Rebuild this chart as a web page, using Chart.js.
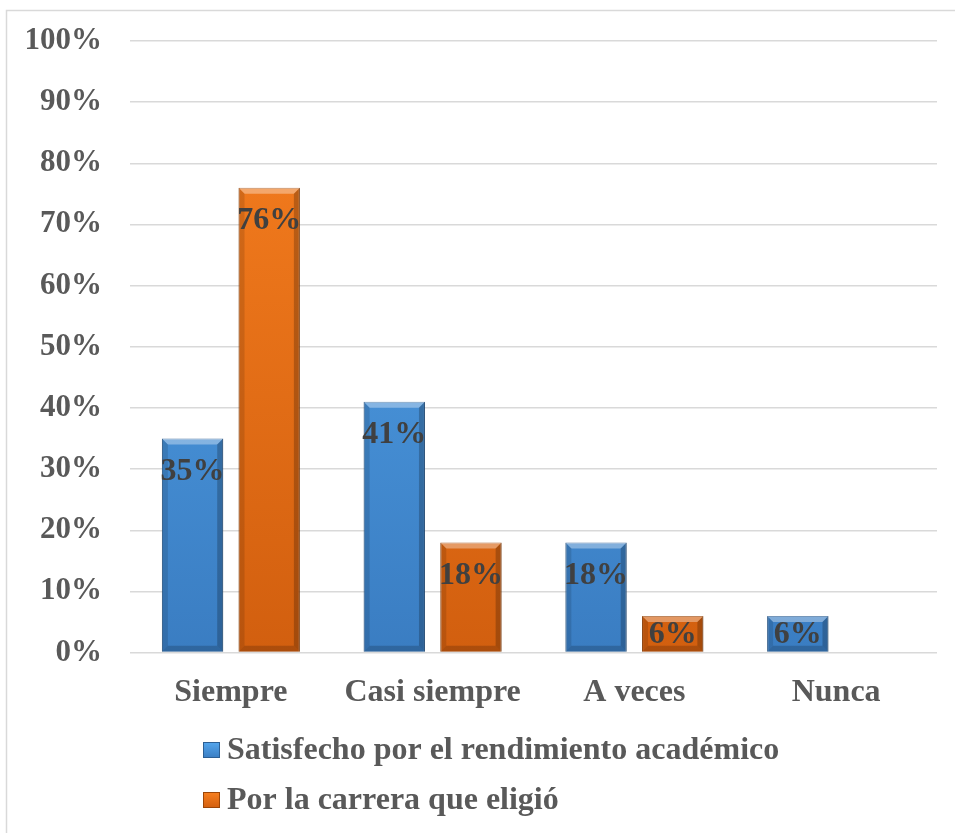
<!DOCTYPE html>
<html>
<head>
<meta charset="utf-8">
<script src="https://cdn.jsdelivr.net/npm/chart.js@4/dist/chart.umd.min.js"></script>
<style>
  html, body { margin: 0; padding: 0; background: #fff; }
  #wrap { width: 955px; height: 833px; }
</style>
</head>
<body>
<div id="wrap"><canvas id="encuesta" width="955" height="833"></canvas></div>
<script>
const categories = ['Siempre', 'Casi siempre', 'A veces', 'Nunca'];
const satisfecho = [35, 41, 18, 6];
const carrera = [76, 18, 6, 0];
const seriesNames = ['Satisfecho por el rendimiento académico', 'Por la carrera que eligió'];

const FONT = '"Liberation Serif", "Times New Roman", serif';
const blue = { top: '#55a7ee', bottom: '#3a7dc2', edge: '#2c5f94' };
const orange = { top: '#f88020', bottom: '#d25f0f', edge: '#9c4608' };

function barFill(c) {
	return function (context) {
		const area = context.chart.chartArea;
		if (!area) return c.top;
		const g = context.chart.ctx.createLinearGradient(0, area.top, 0, area.bottom);
		g.addColorStop(0, c.top);
		g.addColorStop(1, c.bottom);
		return g;
	};
}

// bevel look on each bar, using the bar elements the library laid out
const bevel = {
	id: 'bevel',
	afterDatasetsDraw(chart) {
		const ctx = chart.ctx;
		chart.data.datasets.forEach((ds, i) => {
			chart.getDatasetMeta(i).data.forEach((bar, j) => {
				if (!ds.data[j]) return;
				const l = bar.x - bar.width / 2, r = bar.x + bar.width / 2;
				const t = bar.y, b = bar.base;
				const e = Math.min(6, (b - t) / 3);
				ctx.save();
				ctx.fillStyle = 'rgba(255,255,255,0.35)';
				ctx.beginPath();
				ctx.moveTo(l, t); ctx.lineTo(r, t); ctx.lineTo(r - e, t + e); ctx.lineTo(l + e, t + e);
				ctx.fill();
				ctx.fillStyle = 'rgba(0,0,0,0.12)';
				ctx.beginPath();
				ctx.moveTo(l, t); ctx.lineTo(l + e, t + e); ctx.lineTo(l + e, b - e); ctx.lineTo(l, b);
				ctx.fill();
				ctx.fillStyle = 'rgba(0,0,0,0.22)';
				ctx.beginPath();
				ctx.moveTo(r, t); ctx.lineTo(r - e, t + e); ctx.lineTo(r - e, b - e); ctx.lineTo(r, b);
				ctx.fill();
				ctx.fillStyle = 'rgba(0,0,0,0.18)';
				ctx.beginPath();
				ctx.moveTo(l, b); ctx.lineTo(l + e, b - e); ctx.lineTo(r - e, b - e); ctx.lineTo(r, b);
				ctx.fill();
				ctx.restore();
			});
		});
	}
};

// value labels inside the top of each bar
const valueLabels = {
	id: 'valueLabels',
	afterDatasetsDraw(chart) {
		const ctx = chart.ctx;
		ctx.save();
		ctx.font = 'bold 32px ' + FONT;
		ctx.fillStyle = '#404040';
		ctx.textAlign = 'center';
		ctx.textBaseline = 'middle';
		chart.data.datasets.forEach((ds, i) => {
			chart.getDatasetMeta(i).data.forEach((bar, j) => {
				const v = ds.data[j];
				if (!v) return;
				const h = bar.base - bar.y;
				ctx.fillText(v + '%', bar.x, bar.y + Math.min(32, h / 2) + 1);
			});
		});
		ctx.restore();
	}
};

// vertical legend at the bottom, left aligned, plus the frame lines
const sideLegend = {
	id: 'sideLegend',
	afterDraw(chart) {
		const ctx = chart.ctx;
		ctx.save();
		ctx.strokeStyle = '#d9d9d9';
		ctx.lineWidth = 1.5;
		ctx.beginPath();
		ctx.moveTo(6.5, 833); ctx.lineTo(6.5, 10.5); ctx.lineTo(955, 10.5);
		ctx.stroke();

		const colors = [blue, orange];
		ctx.font = 'bold 32px ' + FONT;
		ctx.textBaseline = 'middle';
		ctx.textAlign = 'left';
		seriesNames.forEach((name, i) => {
			const y = 750 + i * 50;
			const c = colors[i];
			const g = ctx.createLinearGradient(0, y - 8, 0, y + 8);
			g.addColorStop(0, c.top);
			g.addColorStop(1, c.bottom);
			ctx.fillStyle = g;
			ctx.fillRect(203, y - 8, 17, 16);
			ctx.strokeStyle = c.edge;
			ctx.lineWidth = 1;
			ctx.strokeRect(203.5, y - 7.5, 16, 15);
			ctx.fillStyle = '#595959';
			ctx.fillText(name, 227, y + 1);
		});
		ctx.restore();
	}
};

new Chart(document.getElementById('encuesta'), {
	type: 'bar',
	data: {
		labels: categories,
		datasets: [
			{
				label: seriesNames[0],
				data: satisfecho,
				backgroundColor: barFill(blue),
				borderColor: blue.edge,
				borderWidth: 1,
				categoryPercentage: 0.76,
				barPercentage: 0.8
			},
			{
				label: seriesNames[1],
				data: carrera,
				backgroundColor: barFill(orange),
				borderColor: orange.edge,
				borderWidth: 1,
				categoryPercentage: 0.76,
				barPercentage: 0.8
			}
		]
	},
	options: {
		responsive: false,
		animation: false,
		layout: { padding: { top: 41, left: 25, right: 18, bottom: 108 } },
		plugins: {
			legend: { display: false },
			tooltip: { enabled: false }
		},
		scales: {
			x: {
				grid: { display: false },
				border: { display: false },
				ticks: {
					color: '#595959',
					padding: 13,
					font: { family: FONT, size: 32, weight: 'bold' }
				}
			},
			y: {
				min: 0,
				max: 100,
				border: { display: false },
				grid: { color: '#d9d9d9', lineWidth: 1.5, drawTicks: false },
				afterFit: s => { s.width = 105; s.paddingTop = 19; s.paddingBottom = 19; },
				ticks: {
					stepSize: 10,
					padding: 28,
					color: '#595959',
					font: { family: FONT, size: 31, weight: 'bold' },
					callback: v => v + '%'
				}
			}
		}
	},
	plugins: [bevel, valueLabels, sideLegend]
});
</script>
</body>
</html>
